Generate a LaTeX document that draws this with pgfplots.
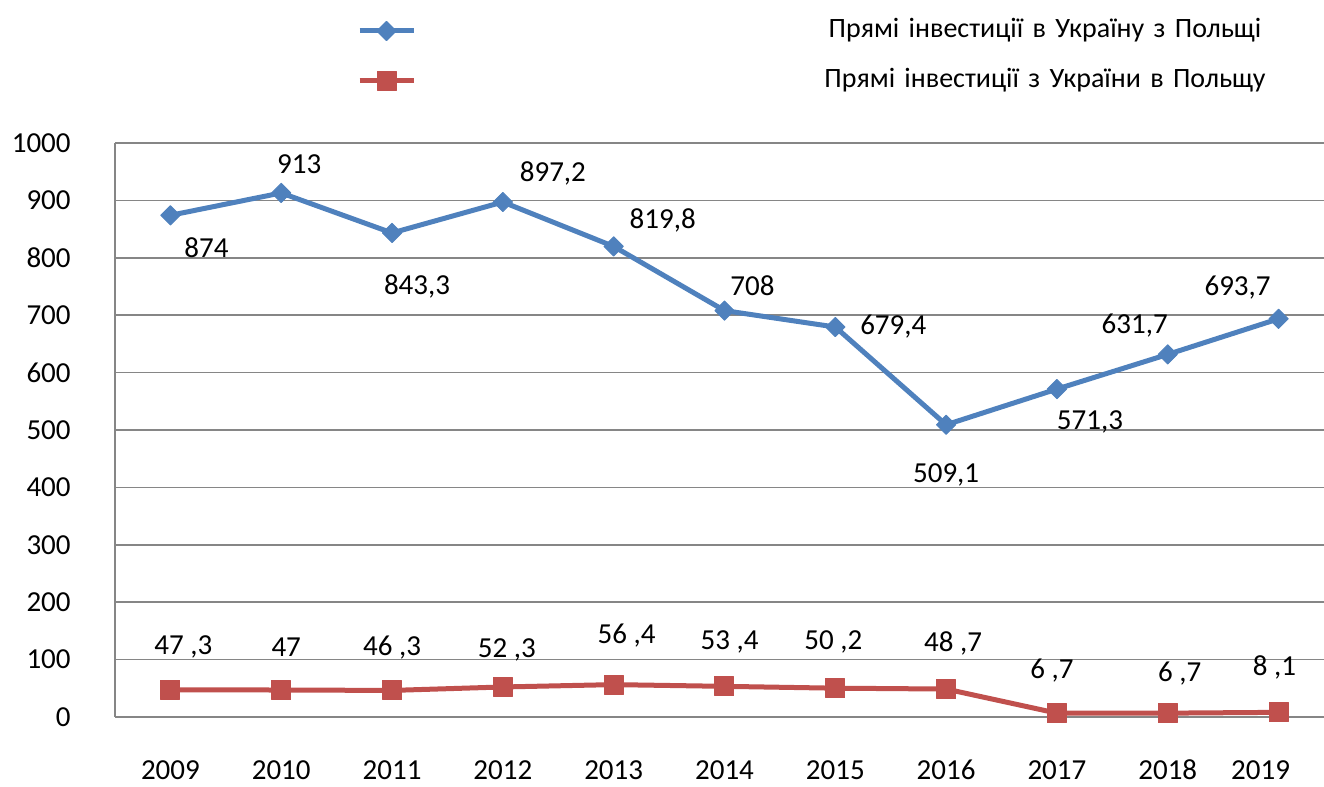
\documentclass[border=0pt]{standalone}
\usepackage{pgfplots}
\pgfplotsset{compat=1.18}
\usepackage{pgfplotstable}
\usepackage{fontspec}
\setmainfont{Carlito}
\definecolor{serblue}{RGB}{79,129,189}
\definecolor{serred}{RGB}{192,80,77}
\definecolor{gridgray}{RGB}{134,134,134}

\pgfplotstableread[col sep=semicolon]{
x;y;lab;dx;dy
0;874;874;18;-16
1;913;913;9;14.5
2;843.3;843,3;12.5;-27
3;897.2;897,2;25;14.5
4;819.8;819,8;24.5;13
5;708;708;14;12.5
6;679.4;679,4;29;0
7;509.1;509,1;0;-25
8;571.3;571,3;16.5;-16.5
9;631.7;631,7;-16.5;14.5
10;693.7;693,7;-20.5;15.5
}\bluedata

\pgfplotstableread[col sep=semicolon]{
x;y;lab;dx;dy
0;47.3;47 ,3;6.5;21.5
1;47;47;2.5;21.5
2;46.3;46 ,3;0;21.5
3;52.3;52 ,3;2;18.5
4;56.4;56 ,4;6.5;24.5
5;53.4;53 ,4;2.5;22
6;50.2;50 ,2;-1;23
7;48.7;48 ,7;3.5;23
8;6.7;6 ,7;-2.5;21.5
9;6.7;6 ,7;6;20
10;8.1;8 ,1;-2;22.5
}\reddata

\begin{document}
\fontsize{14.5}{17}\selectfont%
\begin{tikzpicture}
\useasboundingbox (0,0) rectangle (662pt,393.5pt);
\begin{axis}[
  at={(57.5pt,35pt)}, anchor=south west,
  scale only axis, width=604.5pt, height=287pt,
  xmin=-0.5, xmax=10.41, ymin=0, ymax=1000,
  xtick={0,1,2,3,4,5,6,7,8,9,10},
  xticklabels={2009,2010,2011,2012,2013,2014,2015,2016,2017,2018,{2019\rule{18pt}{0pt}}},
  ytick={0,100,...,1000},
  axis lines*=left,
  axis line style={draw=gridgray, line width=0.75pt, -},
  ymajorgrids, major grid style={draw=gridgray, line width=0.75pt},
  major tick length=0pt,
  /pgf/number format/assume math mode=true,
  /pgf/number format/1000 sep={},
  yticklabel style={anchor=east, inner sep=0pt, xshift=-22pt},
  xticklabel style={anchor=base, inner sep=0pt, yshift=-31.5pt},
  clip=false,
  point meta=explicit symbolic,
  nodes near coords,
  visualization depends on={\thisrow{dx} \as \dx},
  visualization depends on={\thisrow{dy} \as \dy},
  nodes near coords style={anchor=center, xshift=\dx, yshift=\dy, text=black, inner sep=0pt},
  legend cell align=center,
  legend style={at={(axis description cs:0.2002,1.2178)}, anchor=north west,
    draw=none, fill=none, inner sep=0pt, outer sep=0pt, row sep=12pt,
    nodes={text width=250pt, align=center, inner sep=0pt, text height=10pt, text depth=3pt,
      font=\fontsize{14}{17}\selectfont},
    /tikz/every odd column/.append style={column sep=189.5pt}},
  legend image code/.code={\draw[mark repeat=2,mark phase=2] plot coordinates {(0pt,0pt) (13.5pt,0pt) (27pt,0pt)};},
]
\addplot[serblue, line width=2.5pt, line join=round, mark=square*, mark size=3.4pt,
  mark options={rotate=45, line width=0.5pt, fill=serblue}]
  table[x=x, y=y, meta=lab] {\bluedata};
\addlegendentry{Прямі інвестиції в Україну з Польщі}
\addplot[serred, line width=2.5pt, line join=round, mark=square*, mark size=4.75pt,
  mark options={line width=0.5pt, fill=serred}]
  table[x=x, y=y, meta=lab] {\reddata};
\addlegendentry{Прямі інвестиції з України в Польщу}
\end{axis}
\end{tikzpicture}
\end{document}
